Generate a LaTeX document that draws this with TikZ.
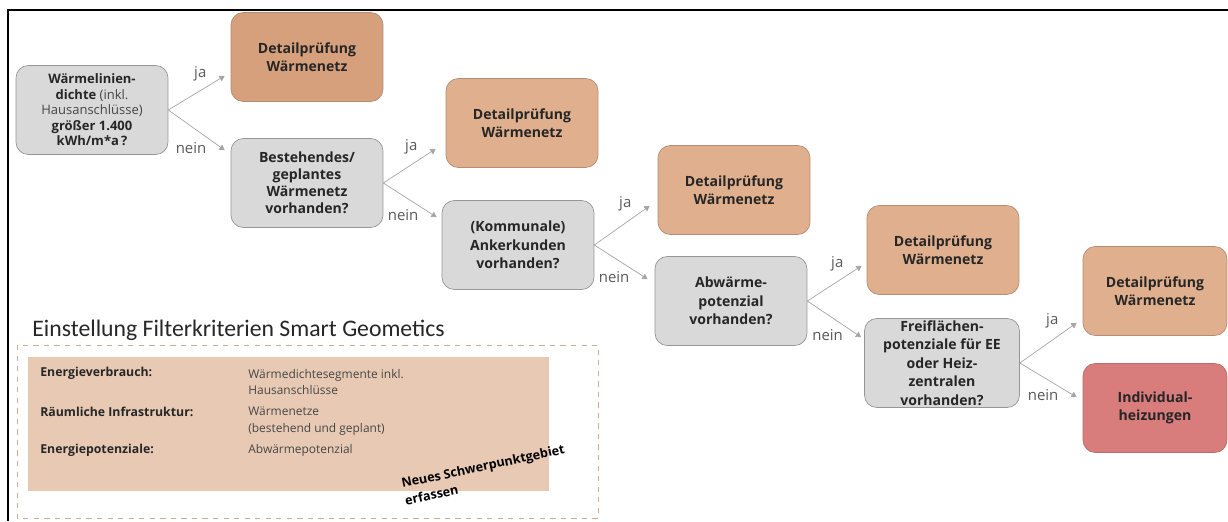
\documentclass[tikz,border=0pt]{standalone}
\usepackage{fontspec}
\setmainfont{Open Sans}
\newfontfamily\headfont{Carlito}
\usepackage{xcolor}
\definecolor{qgray}{RGB}{217,217,217}
\definecolor{qline}{RGB}{150,150,150}
\definecolor{dtan}{RGB}{224,176,142}
\definecolor{dtandark}{RGB}{214,160,124}
\definecolor{dline}{RGB}{178,140,116}
\definecolor{ired}{RGB}{216,124,124}
\definecolor{iline}{RGB}{186,106,106}
\definecolor{beige}{RGB}{232,202,180}
\definecolor{dashcol}{RGB}{205,172,145}
\definecolor{argray}{RGB}{165,165,165}
\definecolor{txtdark}{RGB}{38,38,38}
\definecolor{txtmid}{RGB}{70,70,70}
\definecolor{lblgray}{RGB}{89,89,89}
\usepackage{tikz}
\usetikzlibrary{arrows.meta,calc}

\begin{document}
\begin{tikzpicture}[
  x=0.02cm,y=-0.02cm,
  >={Triangle[length=3pt,width=3.5pt]},
  qbox/.style={draw=qline,fill=qgray,rounded corners=7pt,align=center,text=txtdark,
    font=\fontsize{8}{10.5}\selectfont\bfseries,minimum width=3.04cm,minimum height=1.78cm,inner sep=1pt},
  dbox/.style={qbox,draw=dline,fill=dtan},
  ibox/.style={qbox,draw=iline,fill=ired},
  ar/.style={->,thin,argray},
  lbl/.style={font=\fontsize{8.5}{10}\selectfont,text=lblgray,anchor=east,inner sep=0pt,xshift=-0.36cm,yshift=0.04cm},
  tkey/.style={anchor=west,inner sep=0pt,font=\fontsize{7}{9.5}\selectfont\bfseries,text=txtdark},
  tval/.style={anchor=west,align=left,inner sep=0pt,font=\fontsize{6.8}{9.5}\selectfont,text=txtmid},
]
\useasboundingbox (0,0) rectangle (1228,521);
\draw[line width=0.05cm] (8,521) -- (8,10) -- (1228,10);

% decision chain
\node[qbox,font=\fontsize{7.4}{8.8}\selectfont\bfseries] (b1) at (92,110)
  {Wärmelinien-\\dichte {\mdseries\color{txtmid}(inkl.}\\{\mdseries\color{txtmid}Hausanschlüsse)}\\größer 1.400\\kWh/m*a\,?};
\node[dbox,fill=dtandark] (d1) at (307,57) {Detailprüfung\\Wärmenetz};
\node[qbox,font=\fontsize{8}{9.6}\selectfont\bfseries] (b2) at (307,183) {Bestehendes/\\geplantes\\Wärmenetz\\vorhanden?};
\node[dbox] (d2) at (522,123) {Detailprüfung\\Wärmenetz};
\node[qbox] (b3) at (518,245) {(Kommunale)\\Ankerkunden\\vorhanden?};
\node[dbox] (d3) at (734,190) {Detailprüfung\\Wärmenetz};
\node[qbox] (b4) at (731,301) {Abwärme-\\potenzial\\vorhanden?};
\node[dbox] (d4) at (943,250) {Detailprüfung\\Wärmenetz};
\node[qbox,minimum width=3.1cm] (b5) at (942,363) {Freiflächen-\\potenziale für EE\\oder Heiz-\\zentralen\\vorhanden?};
\node[dbox,minimum width=2.88cm] (d5) at (1155,291) {Detailprüfung\\Wärmenetz};
\node[ibox,minimum width=2.88cm] (ind) at (1155,408) {Individual-\\heizungen};

% arrow ends
\coordinate (j1) at ($(d1.south west)+(-6,-26)$);
\coordinate (n1) at ($(b2.north west)+(-6,12)$);
\coordinate (j2) at ($(d2.south west)+(-10,-19)$);
\coordinate (n2) at ($(b3.north west)+(-5,17)$);
\coordinate (j3) at ($(d3.south west)+(-8,-29)$);
\coordinate (n3) at ($(b4.north west)+(-7,23)$);
\coordinate (j4) at ($(d4.south west)+(-5,-29)$);
\coordinate (n4) at ($(b5.north west)+(-3,19)$);
\coordinate (j5) at ($(d5.south west)+(-6,-13)$);
\coordinate (n5) at ($(ind.north west)+(-6,34)$);

\draw[ar] (b1.east) -- (j1) node[lbl] {ja};
\draw[ar] (b1.east) -- (n1) node[lbl] {nein};
\draw[ar] (b2.east) -- (j2) node[lbl] {ja};
\draw[ar] (b2.east) -- (n2) node[lbl] {nein};
\draw[ar] (b3.east) -- (j3) node[lbl] {ja};
\draw[ar] (b3.east) -- (n3) node[lbl] {nein};
\draw[ar] (b4.east) -- (j4) node[lbl] {ja};
\draw[ar] (b4.east) -- (n4) node[lbl] {nein};
\draw[ar] (b5.east) -- (j5) node[lbl] {ja};
\draw[ar] (b5.east) -- (n5) node[lbl] {nein};

% filter settings
\node[anchor=west,inner sep=0pt,font=\headfont\fontsize{13.5}{15}\selectfont,text=txtdark] (ttl) at (32,330)
  {Einstellung Filterkriterien Smart Geometics};
\draw[dashcol,dashed] (17,345) rectangle (598,518);
\fill[beige] (28,357) rectangle (549,491);
\node[tkey] (k1) at (40,373) {Energieverbrauch:};
\node[tval] (v1) at (248,382) {Wärmedichtesegmente inkl.\\Hausanschlüsse};
\node[tkey] (k2) at (40,412) {Räumliche Infrastruktur:};
\node[tval] (v2) at (248,421) {Wärmenetze\\(bestehend und geplant)};
\node[tkey] (k3) at (40,450) {Energiepotenziale:};
\node[tval] (v3) at (248,450) {Abwärmepotenzial};
\node[rotate=12,anchor=west,align=left,inner sep=0pt,font=\fontsize{7.2}{10}\selectfont\bfseries] (neu) at (403,492)
  {Neues Schwerpunktgebiet\\erfassen};
\end{tikzpicture}
\end{document}
